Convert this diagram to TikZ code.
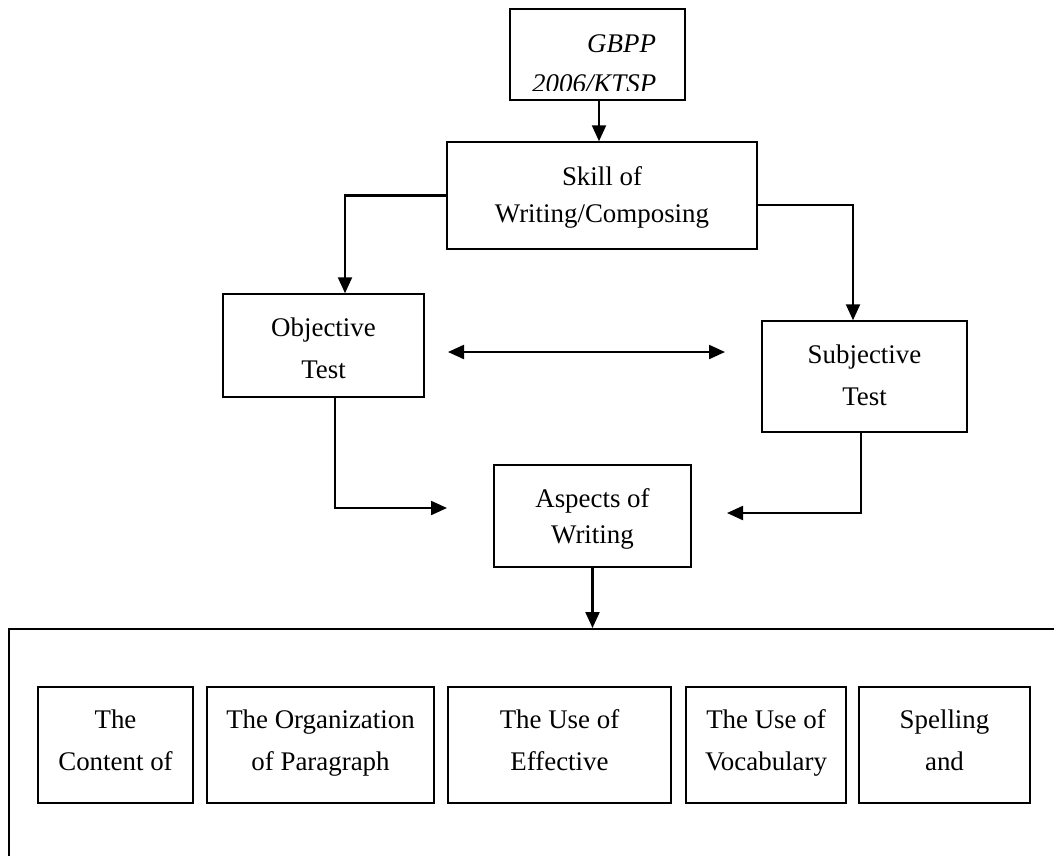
\documentclass[tikz,border=0pt]{standalone}
\usepackage{fontspec}
\setmainfont{Liberation Serif}
\usetikzlibrary{arrows.meta}
\begin{document}
\begin{tikzpicture}[x=1pt,y=-1pt,
  box/.style={draw=black, line width=1.5pt, inner sep=0pt},
  lbl/.style={font=\fontsize{26.9}{30}\selectfont, inner sep=0pt, anchor=base},
  conn/.style={line width=2.2pt, -{Triangle[length=16pt,width=14pt]}},
  dconn/.style={line width=2.2pt, {Triangle[length=16pt,width=14pt]}-{Triangle[length=16pt,width=14pt]}}]
\clip (0,0) rectangle (1054,855);
\fill[white] (0,0) rectangle (1054,855);

% boxes
\node[box, minimum width=175pt, minimum height=91pt] (gbpp) at (597.5,54.5) {};
\node[box, minimum width=310pt, minimum height=107pt] (skill) at (602,195.5) {};
\node[box, minimum width=201pt, minimum height=103pt] (obj) at (323.5,345.5) {};
\node[box, minimum width=205pt, minimum height=111pt] (subj) at (864.5,376.5) {};
\node[box, minimum width=197pt, minimum height=102pt] (asp) at (592.5,516) {};
\node[draw=black, line width=1.8pt, inner sep=0pt, minimum width=1100pt, minimum height=300pt, anchor=north west] (grp) at (8,628) {};

\node[box, minimum width=155pt, minimum height=116pt] (b1) at (115.5,745) {};
\node[box, minimum width=227pt, minimum height=116pt] (b2) at (320.5,745) {};
\node[box, minimum width=223pt, minimum height=116pt] (b3) at (559.5,745) {};
\node[box, minimum width=160pt, minimum height=116pt] (b4) at (766,745) {};
\node[box, minimum width=171pt, minimum height=116pt] (b5) at (944.5,745) {};

% texts
\begin{scope}
\clip (511,10) rectangle (684,90.5);
\node[lbl, anchor=base west, font=\fontsize{26.9}{30}\selectfont\itshape] (g1) at (587,52) {GBPP};
\node[lbl, anchor=base west, font=\fontsize{26.9}{30}\selectfont\itshape] (g2) at (532,92) {2006/KTSP};
\end{scope}

\node[lbl] (s1) at (602,185) {Skill of};
\node[lbl] (s2) at (602,222) {Writing/Composing};
\node[lbl] (o1) at (323.5,336) {Objective};
\node[lbl] (o2) at (323.5,378) {Test};
\node[lbl] (u1) at (864.5,363) {Subjective};
\node[lbl] (u2) at (864.5,405) {Test};
\node[lbl] (a1) at (592.5,507) {Aspects of};
\node[lbl] (a2) at (592.5,543) {Writing};

\node[lbl] (t1a) at (115.5,728) {The};
\node[lbl] (t1b) at (115.5,770) {Content of};
\node[lbl] (t2a) at (320.5,728) {The Organization};
\node[lbl] (t2b) at (320.5,770) {of Paragraph};
\node[lbl] (t3a) at (559.5,728) {The Use of};
\node[lbl] (t3b) at (559.5,770) {Effective};
\node[lbl] (t4a) at (766,728) {The Use of};
\node[lbl] (t4b) at (766,770) {Vocabulary};
\node[lbl] (t5a) at (944.5,728) {Spelling};
\node[lbl] (t5b) at (944.5,770) {and};

% connectors
\coordinate (dl) at (448,352);
\coordinate (dr) at (725,352);
\coordinate (aw) at (447,508);
\coordinate (ae) at (727,513);

\draw[conn] ([xshift=1.5pt]gbpp.south) -- ([xshift=1.5pt]gbpp.south |- skill.north);
\draw[conn] (skill.west) -| ([xshift=21.5pt]obj.north);
\draw[conn] ([yshift=-9.5pt]skill.east) -| ([xshift=-11.5pt]subj.north);
\draw[dconn] (dl) -- (dr);
\draw[conn] ([xshift=11.5pt]obj.south) |- (aw);
\draw[conn] ([xshift=-3.5pt]subj.south) |- (ae);
\draw[conn] (asp.south) -- (asp.south |- grp.north);
\end{tikzpicture}
\end{document}
